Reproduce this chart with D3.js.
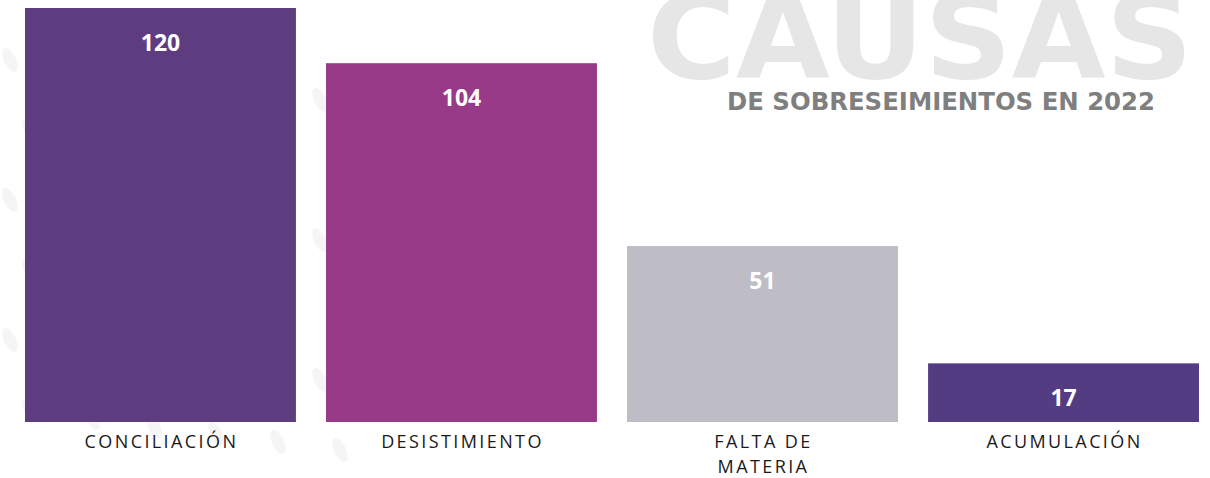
<!DOCTYPE html>
<html>
<head>
<meta charset="utf-8">
<script src="https://cdn.jsdelivr.net/npm/d3@7"></script>
<style>
  html, body { margin: 0; padding: 0; background: #fff; }
  svg { display: block; }
</style>
</head>
<body>
<script>
const categories = [["CONCILIACIÓN"], ["DESISTIMIENTO"], ["FALTA DE", "MATERIA"], ["ACUMULACIÓN"]];
const values = [120, 104, 51, 17];
const colors = ["#5d3c7f", "#993a88", "#bebdc6", "#543c82"];
const title = "CAUSAS";
const subtitle = "DE SOBRESEIMIENTOS EN 2022";

const width = 1210, height = 478;
const data = values.map((v, i) => ({ key: categories[i].join(" "), lines: categories[i], value: v, color: colors[i] }));

const svg = d3.select("body").append("svg")
    .attr("width", width)
    .attr("height", height)
    .style("font-family", "'Open Sans', sans-serif");

// faint decorative strokes in the background (left side)
const deco = svg.append("g").attr("fill", "#f5f5f5");
for (let r = 0; r < 6; r++) {
  for (let c = 0; c < 6; c++) {
    const cx = 10 + c * 62 + (r % 2) * 20;
    const cy = 60 + r * 70 + c * 8;
    if (cx > 340 || cy > 470) continue;
    deco.append("ellipse")
        .attr("cx", cx).attr("cy", cy)
        .attr("rx", 6).attr("ry", 13)
        .attr("transform", `rotate(-25,${cx},${cy})`);
  }
}

// big title in the back
svg.append("text")
    .attr("x", 647)
    .attr("y", 78)
    .attr("fill", "#e6e6e6")
    .attr("font-family", "'DejaVu Sans', sans-serif")
    .attr("font-size", 118)
    .attr("font-weight", 700)
    .attr("textLength", 546)
    .attr("lengthAdjust", "spacingAndGlyphs")
    .text(title);

svg.append("text")
    .attr("x", 1155)
    .attr("y", 110)
    .attr("text-anchor", "end")
    .attr("fill", "#7f7f7f")
    .attr("font-family", "'DejaVu Sans', sans-serif")
    .attr("font-size", 24)
    .attr("font-weight", 700)
    .attr("textLength", 428)
    .attr("lengthAdjust", "spacingAndGlyphs")
    .text(subtitle);

const x = d3.scaleBand()
    .domain(data.map(d => d.key))
    .range([25, 1199])
    .paddingInner(0.1)
    .paddingOuter(0);

const y = d3.scaleLinear()
    .domain([0, 120])
    .range([422, 8]);

const bars = svg.append("g")
  .selectAll("g")
  .data(data)
  .join("g");

bars.append("rect")
    .attr("x", d => x(d.key))
    .attr("y", d => y(d.value))
    .attr("width", x.bandwidth())
    .attr("height", d => y(0) - y(d.value))
    .attr("fill", d => d.color);

bars.append("text")
    .attr("x", d => x(d.key) + x.bandwidth() / 2)
    .attr("y", d => y(d.value) + 43)
    .attr("text-anchor", "middle")
    .attr("fill", "#fff")
    .attr("font-size", 23)
    .attr("font-weight", 700)
    .text(d => d.value);

// category labels under the bars, one text per line
bars.each(function(d) {
  const cx = x(d.key) + x.bandwidth() / 2 + 1;
  d3.select(this).selectAll("text.cat")
    .data(d.lines)
    .join("text")
      .attr("class", "cat")
      .attr("x", cx)
      .attr("y", (l, i) => 448 + i * 25)
      .attr("text-anchor", "middle")
      .attr("fill", "#1a1a1a")
      .attr("font-size", 18)
      .attr("letter-spacing", 2.4)
      .text(l => l);
});
</script>
</body>
</html>
